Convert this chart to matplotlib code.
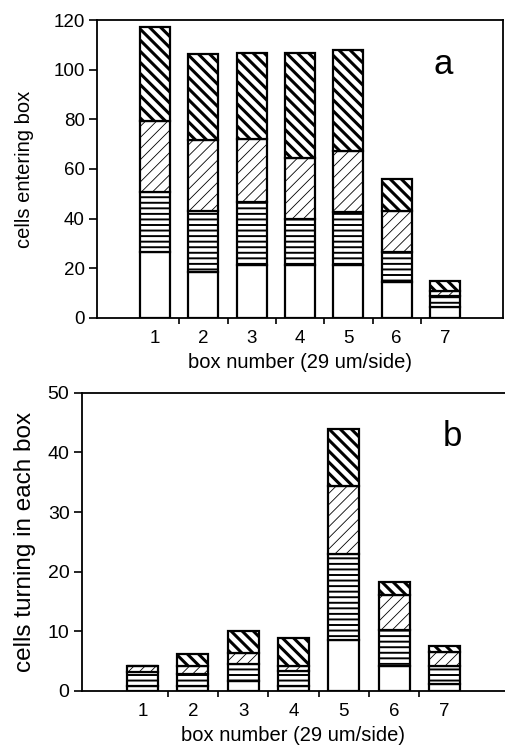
import numpy as np
import matplotlib
matplotlib.use("Agg")
import matplotlib.pyplot as plt
from matplotlib.ticker import FixedLocator

plt.rcParams["font.family"] = ["Liberation Sans", "DejaVu Sans"]
plt.rcParams["axes.linewidth"] = 1.3

boxes = [1, 2, 3, 4, 5, 6, 7]

# panel a: cells entering box (segments bottom -> top)
a_white = [26.5, 18.6, 21.3, 21.3, 21.3, 14.2, 4.5]
a_horiz = [24.2, 24.4, 25.4, 18.5, 21.4, 12.2, 4.1]
a_light = [28.8, 28.5, 25.5, 24.6, 24.5, 16.7, 2.0]
a_dense = [37.8, 34.8, 34.4, 42.3, 40.8, 13.0, 4.0]

# panel b: cells turning in each box
b_white = [0.8, 0.8, 1.6, 0.8, 8.6, 4.2, 1.2]
b_horiz = [2.3, 2.0, 2.9, 2.6, 14.3, 6.0, 3.0]
b_light = [1.0, 1.3, 1.8, 0.8, 11.5, 5.9, 2.4]
b_dense = [0.0, 2.1, 3.8, 4.6, 9.6, 2.2, 1.0]

hatches = ["", "---", "///", "\\\\\\"]
hatch_lw = [1.0, 1.4, 0.6, 2.2]

fig = plt.figure(figsize=(5.06, 7.51), dpi=100)
ax_a = fig.add_axes([0.192, 0.577, 0.802, 0.396])
ax_b = fig.add_axes([0.162, 0.080, 0.836, 0.397])


def stacked(ax, series):
    bottom = np.zeros(len(boxes))
    for vals, h, hl in zip(series, hatches, hatch_lw):
        bars = ax.bar(boxes, vals, width=0.62, bottom=bottom, color="white",
                      edgecolor="black", linewidth=1.6, hatch=h)
        for p in bars:
            if hasattr(p, "set_hatch_linewidth"):
                p.set_hatch_linewidth(hl)
        bottom = bottom + np.array(vals)


stacked(ax_a, [a_white, a_horiz, a_light, a_dense])
stacked(ax_b, [b_white, b_horiz, b_light, b_dense])

for ax, ymax, step, tsize in [(ax_a, 120, 20, 13.5), (ax_b, 50, 10, 14)]:
    ax.set_xlim(-0.2, 8.2)
    ax.set_ylim(0, ymax)
    ax.set_yticks(np.arange(0, ymax + 1, step))
    ax.set_xticks(boxes)
    ax.xaxis.set_minor_locator(FixedLocator([1.5, 2.5, 3.5, 4.5, 5.5, 6.5]))
    ax.tick_params(axis="x", which="major", length=0, labelsize=13.5, pad=9)
    ax.tick_params(axis="x", which="minor", length=4, width=1.2)
    ax.tick_params(axis="y", length=6, width=1.2, labelsize=tsize, pad=3)
    ax.set_xlabel("box number (29 um/side)", fontsize=14.5, labelpad=4)

ax_b.spines["right"].set_visible(False)

ax_a.set_ylabel("cells entering box", fontsize=14.5, labelpad=14)
ax_b.set_ylabel("cells turning in each box", fontsize=17.5, labelpad=8)

ax_a.text(0.852, 0.85, "a", transform=ax_a.transAxes, fontsize=25,
          ha="center", va="center")
ax_b.text(0.875, 0.852, "b", transform=ax_b.transAxes, fontsize=25,
          ha="center", va="center")

fig.savefig("out.png", dpi=100)
